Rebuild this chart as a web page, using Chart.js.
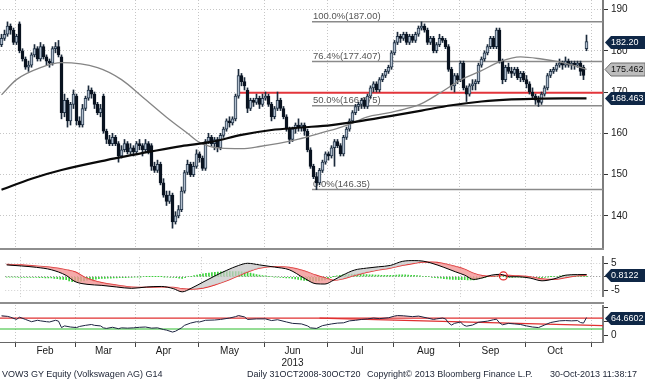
<!DOCTYPE html>
<html>
<head>
<meta charset="utf-8">
<script src="https://cdn.jsdelivr.net/npm/chart.js@4.4.1/dist/chart.umd.min.js"></script>
<style>
  body{margin:0;width:645px;height:380px;background:#fff;position:relative;overflow:hidden;font-family:"Liberation Sans",Arial,sans-serif}
  canvas{position:absolute;left:0}
  .rule{position:absolute;left:0;width:604px;height:2px;background:#8e8e8e}
  .foot{position:absolute;top:368px;font-size:9px;line-height:12px;color:#1b2233;white-space:nowrap}
</style>
</head>
<body>
<canvas id="cMain" width="645" height="248" style="top:0"></canvas>
<div class="rule" style="top:248px"></div>
<canvas id="cMacd" width="645" height="50" style="top:252px"></canvas>
<div class="rule" style="top:302px"></div>
<canvas id="cRsi" width="645" height="67" style="top:305px"></canvas>
<div class="foot" style="left:2px">VOW3 GY Equity (Volkswagen AG) G14</div>
<div class="foot" style="left:247px">Daily 31OCT2008-30OCT20</div>
<div class="foot" style="left:367px">Copyright© 2013 Bloomberg Finance L.P.</div>
<div class="foot" style="left:550px">30-Oct-2013 11:38:17</div>
<script>
// ── daily candles, index 0 = last days of Jan 2013, 195 = 30 Oct 2013 ──
const openP=[181.5,183,184,186,185,182,186.5,180,178,176, 176.5,179,180.5,178,181,178.5,177.5,177,180.5,181,
 178.5,165,168,163,167,169,163,162,166,168.5, 170.5,169.5,167,165,169,160.5,158.5,157.5,159,157.5,
 154.5,156,157.5,155.5,156.5,155.5,157.5,157,156,157.5, 157,152,151,152.5,148,145,143.5,145,138.5,140,
 141.5,146,150.5,152.5,150,152,155,154,151.5,158, 159,157.5,158.5,156.5,159.5,161,163,162.5,163.5,169,
 174,172.5,170.5,166,168,167.5,168.5,167,168.5,169, 167,164,166,168,166,164,161,158.5,161,162,
 161.5,162,160.5,156,152,149.5,148,151,153,155, 154.5,156.5,158,157,155,159,161,163,165,166.5,
 167,168,166.5,169,171,172,170.5,173,174,175, 176,179.5,182,183.5,183,184,182,183.5,182.5,184,
 185.5,186,185,182,183,180,181.5,183,182.5,181, 175.5,171.5,174,173,177,171,169.5,171.5,172,172.5,
 176.5,178,179.5,181,183,181,185,177.5,173,176, 175,174.5,175.5,173.5,174.5,173,172,170,169,168,
 167.5,169.5,171,174,175,175.5,176.5,177,176.5,177.5, 176.5,177,176.5,177,176,180.5];
const highP=[184,185,187,186.5,185.5,184,187,180.5,178.5,177.5, 179.5,181.5,181,182,181.5,179,178,181,182,182.5,
 179,169.5,168.5,167.5,170.5,169.5,164,167,169,171.5, 171,170,167.5,167,169.5,161,159.5,160,159.5,158,
 157,158.5,158,157.5,157,158,158.5,157.5,158.5,158, 157.5,153,153.5,153,149,146,146,145.5,141,142.5,
 147,151,153.5,153,153,156,155.5,154.5,158.5,160, 159.5,159,159,160,161.5,163.5,164,164,169.5,175.5,
 174.5,173.5,171,168.5,168.5,169.5,169,169.5,170,169.5, 167.5,166.5,170,168.5,166.5,164.5,161.5,161.5,162.5,163.5,
 162.5,162.5,161,156.5,152.5,150.5,151.5,153.5,155.5,155.5, 157,158.5,158.5,157.5,159.5,161.5,163.5,165.5,167,167.5,
 168.5,168.5,169.5,171.5,172.5,172.5,173.5,174.5,175.5,176.5, 180,182.5,184.5,184,184.5,184.5,184,184,184.5,186,
 187,186.5,185.5,183.5,183.5,182,184,183.5,183,181.5, 176,174.5,174.5,177.5,177.5,171.5,172,173,173,177,
 178.5,180,181.5,183.5,183.5,185.5,185.5,178,176.5,177, 176,176,176,175,175,174,172.5,171,169.5,169,
 170,171.5,174.5,175.5,176,177,178,177.5,178.5,178, 177.5,177.5,177.5,177.5,176.5,183.8];
const lowP=[181,182.5,183.5,184,181.5,181.5,179.5,177.5,175.5,175, 176,178.5,177.5,177.5,178,176.5,176,176.5,179.5,178.5,
 163.5,164,161.5,162,166,162,161.5,161.5,165.5,168, 168.5,166,164.5,164,160,157.5,157,157,157,153,
 154,155.5,155,155,154.5,155,156,154.5,155.5,155, 151,150.5,150.5,147.5,144.5,142.5,143,137,138,139.5,
 141,145.5,150,149.5,149.5,151.5,153,151,151,157.5, 157,156,155.5,156,159,160.5,161.5,162,163,168.5,
 171.5,170.5,165,165.5,166.5,167,166,166.5,168,166.5, 163,163.5,165.5,165.5,163.5,160.5,157.5,158,160,160.5,
 160.5,159.5,155.5,151.5,149,146.35,147.5,150.5,152.5,153.5, 154,152,156.5,154.5,154.5,158.5,160.5,162.5,164.5,165.5,
 166,166,166,168.5,170,170,170,172.5,173.5,174.5, 175.5,179,181.5,182,182.5,181.5,181.5,182,182,183.5,
 185,184.5,181.5,181.5,179.5,179.5,181,182,180.5,175, 170.5,170,172,172.5,170.5,167.7,169,170.5,170.5,172,
 176,177.5,179,180.5,180.5,180.5,177,172,172.5,174.5, 173.5,174,173,172.5,172.5,171,169.5,168.5,167,166.5,
 167,169,170.5,173.5,174.5,175,176,175.5,176,176, 175.5,175.5,176,174,173,180];
const closeP=[183,184,186,185,182,183.5,180,178,176,176.5, 179,180.5,178,181,178.5,177.5,177,180.5,181,179,
 165,168,163,167,169.5,163,162,166,168.5,170.5, 169.5,167,165,166,160.5,158.5,157.5,159,157.5,154.5,
 156,157.5,155.5,156.5,155.5,157.5,157,156,157.5,155.5, 152,151,152.5,148,145,143.5,145,138.5,140,141.5,
 146,150.5,152.5,150,152,155,154,151.5,158,159, 157.5,158.5,156.5,159.5,161,163,162.5,163.5,169,174,
 172.5,171.5,166,168,167.5,168.5,167,168.5,169,167, 164,166,168,166,164,161,158.5,161,162,161.5,
 162,160.5,156,152,149.5,148,151,153,155,154.5, 156.5,158,157,155,159,161,163,165,166.5,167,
 168,166.5,169,171,172,170.5,173,174,175,176, 179.5,182,183.5,183,184,182,183.5,182.5,184,185.5,
 186,185,182,183,180,181.5,183,182.5,181,175.5, 171.5,174,173,177,171,169.5,171.5,172,172.5,176.5,
 178,179.5,181,183,181,185,177.5,173,176,175, 174.5,175.5,173.5,174.5,173,172,170,169,168,167.5,
 169.5,171,174,175,175.5,176.5,177,176.5,177.5,176.5, 177,176.5,177,175,174,182.2];

// moving averages (day index, value)
const ma50X=[0,5,13,20,32,40,47,55,62,66,73,80,86,98,106,112,115,122,128,134,140,146,153,160,166,173,180,186,191,195];
const ma50Y=[169.3,173,175.9,177.1,175.9,173,168.8,163.9,160,157.8,156.4,156.3,156.8,158.4,160,161.2,161.9,164,164.8,165.8,167.2,169.7,172.9,175.2,177.3,178.5,178,177.3,176.4,175.462];
const ma200X=[0,10,20,35,50,60,70,80,90,100,110,120,130,140,150,160,170,180,190,195];
const ma200Y=[146.3,149.0,151.1,153.5,155.6,156.9,157.9,159.6,160.8,161.4,162.0,163.0,164.2,165.5,166.8,167.7,168.2,168.4,168.45,168.463];

// fibonacci retracement and resistance line
const fibLevels=[187.00,177.407,166.675,146.35];
const fibLabels=['100.0%(187.00)','76.4%(177.407)','50.0%(166.675)','0.0%(146.35)'];
const fibStartX=103.5;
const resistLevel=169.8, resistStartX=79;

// MACD panel
const macdX=[0,5,10,15,20,23,27,32,37,42,47,52,56,59,62,66,70,74,78,81,85,90,95,100,104,107,110,113,117,121,125,129,133,137,140,143,147,151,154,157,160,163,166,169,172,176,180,184,188,192,195];
const macdLine=[4.4,4.0,3.5,2.6,0.5,-1.8,-2.8,-3.2,-3.8,-4.3,-3.8,-3.6,-4.4,-5.6,-4.3,-2.0,0.3,2.4,4.2,5.0,4.4,3.6,2.6,-0.5,-2.6,-2.7,-1.2,0.6,2.5,3.2,3.7,4.2,5.7,6.0,5.8,5.0,3.5,1.8,0.6,-1.0,-0.4,0.6,0.9,0.0,0.0,-0.5,-1.5,-0.8,0.6,0.8,0.8122];
const signalLine=[4.6,4.4,4.0,3.5,2.6,1.8,-0.6,-2.2,-3.1,-3.8,-3.9,-3.8,-3.9,-4.4,-4.6,-4.2,-3.0,-1.5,0.4,1.8,3.2,3.8,3.5,2.2,0.6,-0.4,-1.3,-0.8,0.5,1.6,2.5,3.2,4.2,5.0,5.4,5.4,4.9,3.8,2.8,1.3,0.4,0.2,0.5,0.5,0.3,0.0,-0.8,-1.0,-0.3,0.4,0.6];
const macdHist=[-0.1,-0.1,-0.15,-0.15,-0.2, -0.2,-0.2,-0.25,-0.25,-0.25, -0.25,-0.3,-0.35,-0.4,-0.45, -0.45,-0.6,-0.75,-0.9,-1.0,
 -1.05,-1.5,-1.8,-1.8,-1.7, -1.6,-1.5,-1.3,-1.1,-0.95, -0.85,-0.75,-0.65,-0.6,-0.55, -0.5,-0.45,-0.4,-0.35,-0.3,
 -0.3,-0.25,-0.2,-0.15,-0.1, -0.05,0,0.05,0.05,0.05, 0.05,0.05,0.05,-0.05,-0.15, -0.2,-0.25,-0.35,-0.5,-0.6,
 -0.3,0,0.15,0.4,0.65, 0.9,1.1,1.25,1.4,1.55, 1.65,1.75,1.85,1.9,1.95, 2.0,1.95,1.9,1.9,1.8,
 1.7,1.6,1.35,1.1,0.85, 0.6,0.45,0.3,0.15,0, -0.1,-0.15,-0.25,-0.3,-0.4, -0.45,-0.6,-0.8,-1.0,-1.2,
 -1.35,-1.45,-1.55,-1.6,-1.6, -1.5,-1.3,-1.15,-0.7,-0.3, 0.05,0.3,0.5,0.7,0.8, 0.9,0.95,1.0,1.0,0.95,
 0.85,0.8,0.75,0.7,0.65, 0.6,0.55,0.5,0.5,0.5, 0.55,0.65,0.7,0.75,0.7, 0.6,0.55,0.5,0.4,0.3,
 0.2,0.1,0,-0.2,-0.3, -0.45,-0.55,-0.7,-0.8,-0.9, -0.95,-1.0,-1.05,-1.1,-1.1, -1.15,-1.15,-1.15,-0.9,-0.6,
 -0.4,-0.2,0.05,0.2,0.2, 0.2,0.2,0.1,-0.05,-0.25, -0.2,-0.15,-0.15,-0.15,-0.2, -0.25,-0.25,-0.3,-0.35,-0.35,
 -0.35,-0.2,-0.05,0.05,0.1, 0.2,0.3,0.4,0.45,0.45, 0.4,0.3,0.2,0.15,0.1, 0.1];
const crossX=[167], crossY=[0.3];

// RSI panel
const rsiX=[0,2,3,5,6,8,10,12,13,15,16,18,19,20,21,23,25,26,28,30,31,33,34,35,37,39,40,42,44,46,48,50,52,54,55,57,58,60,61,63,65,66,68,71,73,76,78,79,81,82,85,88,90,92,95,97,100,102,103,105,107,110,112,114,116,118,120,122,124,126,129,131,132,134,137,139,142,144,145,147,148,149,150,151,153,154,155,157,159,162,164,165,166,167,169,171,173,175,177,179,181,183,186,188,190,192,193,194,195];
const rsiY=[71,69,66,58,66,58,50,55,53,50,49,55,52,29,35,31,29,33,37,40,37,35,28,26,30,25,28,27,28,30,31,27,28,22,20,13,16,28,37,45,50,49,55,56,58,63,68,72,67,58,60,60,54,57,49,44,42,35,28,26,36,42,45,46,53,55,58,60,63,61,64,70,72,71,68,70,63,58,60,63,60,46,38,44,49,38,34,38,48,52,57,59,46,39,44,42,40,35,31,29,38,47,53,54,53,54,47,45,64.6602];
const rsiHigh=63, rsiLow=24;
const rsiSlopeX=[106,200.5], rsiSlopeY=[63,36];

// axes
const monthEdges=[4.5,24.5,44.5,65.5,87.5,108.5,130.5,152.5,174.5,196.5];
const monthMid=[14.5,34,54,76,97,118.5,141.5,163,184.5];
const monthLabels=['Feb','Mar','Apr','May',['Jun','2013'],'Jul','Aug','Sep','Oct'];
const priceTicks=[140,150,160,170,180,190];
const macdTicks=[-5,0,5];
const rsiTicks=[0,50,100];

const X_MIN=-0.5, X_MAX=200.5;
const FONT='"Liberation Sans", Arial, sans-serif';
Chart.defaults.font.family=FONT;
Chart.defaults.font.size=10;
Chart.defaults.color='#1a1a1a';

const pts=(xs,ys)=>xs.map((x,i)=>({x:x,y:ys[i]}));
const hline=(x0,v)=>[{x:x0,y:v},{x:X_MAX,y:v}];

function xAxis(extra){
  return Object.assign({type:'linear',min:X_MIN,max:X_MAX,offset:false,
    afterBuildTicks:s=>{s.ticks=monthEdges.map(v=>({value:v}));},
    afterFit:s=>{s.height=0;s.paddingLeft=0;s.paddingRight=0;},
    ticks:{display:false},
    grid:{color:'#c6c6c6',drawTicks:false,offset:false},
    border:{display:false,dash:[1,2]}},extra||{});
}
function yAxis(min,max,ticks,extra){
  return Object.assign({position:'right',min:min,max:max,
    afterBuildTicks:s=>{s.ticks=ticks.map(v=>({value:v}));},
    afterFit:s=>{s.width=42;s.paddingTop=0;s.paddingBottom=0;},
    ticks:{padding:3,color:'#1a1a1a'},
    grid:{color:'#c6c6c6',tickColor:'#333',tickLength:5},
    border:{color:'#7d7d7d',width:2,dash:[1,2]}},extra||{});
}

// value tags on the right axis
function badges(items){
  return {id:'badges',afterDraw(chart){
    const ctx=chart.ctx, sc=chart.scales.y, x=chart.chartArea.right+2;
    items.forEach(b=>{
      const y=Math.round(sc.getPixelForValue(b.value))+0.5;
      ctx.save();
      ctx.beginPath();
      ctx.moveTo(x,y);ctx.lineTo(x+6,y-6.5);ctx.lineTo(645,y-6.5);ctx.lineTo(645,y+6.5);ctx.lineTo(x+6,y+6.5);ctx.closePath();
      ctx.fillStyle=b.bg;ctx.fill();
      if(b.edge){ctx.strokeStyle=b.edge;ctx.lineWidth=1;ctx.stroke();}
      ctx.fillStyle=b.fg;ctx.font='9px '+FONT;ctx.textBaseline='middle';
      ctx.fillText(b.text,x+6,y+0.5);
      ctx.restore();
    });
  }};
}
const fibText={id:'fibText',beforeDatasetsDraw(chart){
  const ctx=chart.ctx, xs=chart.scales.x, ys=chart.scales.y;
  ctx.save();ctx.font='9.5px '+FONT;ctx.fillStyle='#555';ctx.textBaseline='alphabetic';
  fibLevels.forEach((v,i)=>ctx.fillText(fibLabels[i],xs.getPixelForValue(fibStartX)+1,ys.getPixelForValue(v)-2.5));
  ctx.restore();
}};

const base={responsive:false,animation:false,events:[],layout:{padding:0},
  plugins:{legend:{display:false},tooltip:{enabled:false}}};
const NAVY='#0f2746';
const up=i=>closeP[i]>=openP[i];

// ── main price panel ──
const mainSets=fibLevels.map(v=>({type:'line',data:hline(fibStartX,v),borderColor:'#8a8a8a',borderWidth:1.5,pointRadius:0,order:7}));
mainSets.push(
  {type:'line',data:hline(resistStartX,resistLevel),borderColor:'#e3353b',borderWidth:2,pointRadius:0,order:6},
  {type:'bar',data:closeP.map((c,i)=>({x:i,y:[lowP[i],highP[i]]})),backgroundColor:'#1b2a3b',barThickness:1,grouped:false,order:5},
  {type:'bar',data:closeP.map((c,i)=>({x:i,y:[openP[i],c]})),barThickness:3,grouped:false,borderSkipped:false,borderWidth:1,
    backgroundColor:c=>c.dataIndex===undefined?'#000':(up(c.dataIndex)?'#b3c0cf':'#0a1320'),
    borderColor:c=>c.dataIndex===undefined?'#000':(up(c.dataIndex)?'#233549':'#0a1320'),order:4},
  {type:'line',data:pts(ma50X,ma50Y),borderColor:'#858585',borderWidth:1.3,pointRadius:0,cubicInterpolationMode:'monotone',order:2},
  {type:'line',data:pts(ma200X,ma200Y),borderColor:'#0a0a0a',borderWidth:2.2,pointRadius:0,cubicInterpolationMode:'monotone',order:1}
);
new Chart(document.getElementById('cMain'),{type:'bar',data:{datasets:mainSets},
  options:Object.assign({},base,{scales:{x:xAxis(),y:yAxis(132.2,192.3,priceTicks)}}),
  plugins:[fibText,badges([
    {value:closeP[closeP.length-1],text:closeP[closeP.length-1].toFixed(2),bg:NAVY,fg:'#fff'},
    {value:ma50Y[ma50Y.length-1],text:ma50Y[ma50Y.length-1].toFixed(3),bg:'#bdbdbd',edge:'#6e6e6e',fg:'#111'},
    {value:ma200Y[ma200Y.length-1],text:ma200Y[ma200Y.length-1].toFixed(3),bg:NAVY,fg:'#fff'}])]});

// ── MACD panel ──
new Chart(document.getElementById('cMacd'),{type:'bar',data:{datasets:[
  {type:'bar',data:macdHist.map((v,i)=>({x:i,y:v})),backgroundColor:'#3bd23b',barThickness:1,grouped:false,order:4},
  {type:'line',data:pts(macdX,macdLine),borderColor:'#000',borderWidth:1,pointRadius:0,cubicInterpolationMode:'monotone',
    fill:{target:'+1',above:'rgba(200,200,200,0.75)',below:'rgba(243,150,150,0.8)'},order:2},
  {type:'line',data:pts(macdX,signalLine),borderColor:'#e02828',borderWidth:1.2,pointRadius:0,cubicInterpolationMode:'monotone',order:3},
  {type:'scatter',data:pts(crossX,crossY),pointRadius:4,pointBorderColor:'#e02828',pointBackgroundColor:'rgba(0,0,0,0)',pointBorderWidth:1.2,order:1}
]},
  options:Object.assign({},base,{scales:{x:xAxis(),
    y:yAxis(-7.44,7.26,macdTicks,{grid:{color:c=>c.tick&&c.tick.value===0?'#8a8a8a':'#d0d0d0',tickColor:'#333',tickLength:5}})}}),
  plugins:[badges([{value:macdLine[macdLine.length-1],text:macdLine[macdLine.length-1].toFixed(4),bg:NAVY,fg:'#fff'}])]});

// ── RSI panel ──
new Chart(document.getElementById('cRsi'),{type:'line',data:{datasets:[
  {data:pts(rsiX,rsiY),borderColor:'#1c2340',borderWidth:1,pointRadius:0,
    fill:{target:{value:rsiHigh},above:'rgba(243,160,160,0.8)',below:'rgba(0,0,0,0)'},order:1},
  {data:hline(X_MIN,rsiHigh),borderColor:'#e03030',borderWidth:1.2,pointRadius:0,order:2},
  {data:pts(rsiSlopeX,rsiSlopeY),borderColor:'#e03030',borderWidth:1.2,pointRadius:0,order:2},
  {data:hline(X_MIN,rsiLow),borderColor:'#2dbb2d',borderWidth:1.2,pointRadius:0,order:3}
]},
  options:Object.assign({},base,{scales:{
    x:xAxis({grid:{color:'#c6c6c6',drawTicks:true,tickLength:5,tickColor:'#444',offset:false},border:{display:true,color:'#666',width:1,dash:[1,2]}}),
    xl:{type:'linear',position:'bottom',weight:1,min:X_MIN,max:X_MAX,offset:false,
      afterBuildTicks:s=>{s.ticks=monthMid.map(v=>({value:v}));},
      afterFit:s=>{s.height=30;s.paddingLeft=0;s.paddingRight=0;},
      ticks:{callback:(v,i)=>monthLabels[i],autoSkip:false,maxRotation:0,padding:3,color:'#1a1a1a'},
      grid:{display:false,drawTicks:false},border:{display:false}},
    y:yAxis(-22.5,109.6,rsiTicks,{ticks:{padding:3,color:'#1a1a1a',callback:v=>v===100?'':v},grid:{drawOnChartArea:false,tickColor:'#333',tickLength:5}})}}),
  plugins:[badges([{value:rsiY[rsiY.length-1],text:rsiY[rsiY.length-1].toFixed(4),bg:NAVY,fg:'#fff'}])]});
</script>
</body>
</html>
